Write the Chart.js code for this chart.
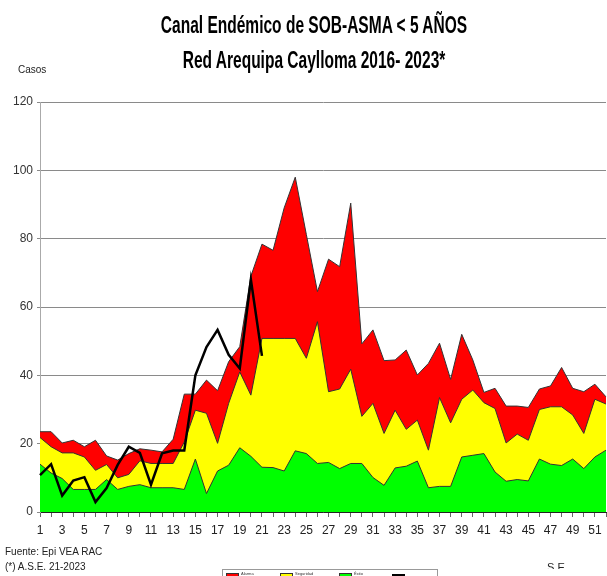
<!DOCTYPE html>
<html>
<head>
<meta charset="utf-8">
<script src="https://cdn.jsdelivr.net/npm/chart.js@4.4.1/dist/chart.umd.min.js"></script>
<style>
  html,body{margin:0;padding:0;background:#fff;}
  #wrap{position:relative;width:607px;height:576px;overflow:hidden;background:#fff;font-family:'Liberation Sans Narrow','Liberation Sans',Arial,sans-serif;}
  #c{position:absolute;left:0;top:0;}
  .t{position:absolute;left:314px;white-space:nowrap;font-family:'Liberation Sans',Arial,sans-serif;font-weight:bold;font-size:23px;color:#000;transform:translateX(-50%) scaleX(0.675);transform-origin:center;}
  .s{position:absolute;white-space:nowrap;font-size:10px;color:#222;}
  #leg{position:absolute;left:222px;top:569px;width:214px;height:20px;border:1px solid #999;background:#fff;}
  .sw{position:absolute;top:3px;width:11px;height:3px;border:1px solid #333;}
  .lt{position:absolute;top:1px;font-size:4px;color:#333;}
</style>
</head>
<body>
<div id="wrap">
  <canvas id="c" width="612" height="576"></canvas>
  <div class="t" style="top:12px;">Canal Endémico de SOB-ASMA &lt; 5 AÑOS</div>
  <div class="t" style="top:47px;">Red Arequipa Caylloma 2016- 2023*</div>
  <div class="s" style="left:18px;top:64px;">Casos</div>
  <div class="s" style="left:5px;top:546px;">Fuente:  Epi VEA RAC</div>
  <div class="s" style="left:5px;top:561px;">(*) A.S.E. 21-2023</div>
  <div style="position:absolute;left:547px;top:561px;height:8px;overflow:hidden;"><div class="s" style="position:static;font-size:11px;">S.E.</div></div>
  <div id="leg">
    <div class="sw" style="left:3px;background:#ff0000;"></div><div class="lt" style="left:18px;">Alarma</div>
    <div class="sw" style="left:57px;background:#ffff00;"></div><div class="lt" style="left:72px;">Seguridad</div>
    <div class="sw" style="left:116px;background:#00ff00;"></div><div class="lt" style="left:131px;">Éxito</div>
    <div style="position:absolute;left:169px;top:4px;width:13px;height:2px;background:#000;"></div>
  </div>
</div>
<script>
const semanas = ['1','2','3','4','5','6','7','8','9','10','11','12','13','14','15','16','17','18','19','20','21','22','23','24','25','26','27','28','29','30','31','32','33','34','35','36','37','38','39','40','41','42','43','44','45','46','47','48','49','50','51','52'];
const exito = [14.0,11.4,9.8,6.6,6.6,6.6,9.5,6.6,7.5,8.0,7.1,7.1,7.1,6.6,15.5,5.4,12.0,13.7,18.8,16.3,13.1,13.0,12.0,17.9,17.1,14.2,14.5,12.7,14.2,14.2,10.1,7.8,12.9,13.4,14.9,7.1,7.5,7.5,16.1,16.6,17.1,11.7,9.0,9.5,9.1,15.5,14.0,13.6,15.5,12.7,16.1,18.1];
const seguridad = [21.8,19.1,17.3,17.3,16.1,12.2,13.9,10.0,11.0,15.0,14.2,14.2,14.2,20.5,29.8,28.9,20.1,31.8,41.0,34.2,50.8,50.8,50.8,50.8,45.0,55.7,35.2,36.0,41.8,28.0,31.8,23.0,29.8,24.2,26.9,18.1,33.5,26.1,33.0,35.7,32.0,30.3,20.2,22.8,21.0,30.0,30.8,30.8,28.4,23.0,33.0,31.6];
const alarma = [23.5,23.5,20.2,21.0,19.1,21.0,16.4,15.2,17.1,18.5,18.1,17.6,21.3,34.5,34.5,38.6,35.5,44.0,48.4,69.0,78.4,76.6,89.0,98.0,81.2,64.5,74.0,71.8,90.4,49.2,53.3,44.3,44.5,47.4,40.1,43.5,49.4,38.8,52.0,44.5,35.0,36.2,31.0,31.0,30.6,36.0,36.9,42.3,36.2,35.2,37.4,33.7];
const casos2023 = [10.8,14.0,4.8,9.2,10.2,2.9,7.0,13.8,19.1,17.3,8.0,17.2,18.0,18.0,40.0,48.3,53.3,46.0,42.0,68.0,45.7];
const yTicks = [0,20,40,60,80,100,120];

const FONT = "'Liberation Sans Narrow','Liberation Sans',Arial,sans-serif";

new Chart(document.getElementById('c'), {
  type: 'line',
  data: {
    labels: semanas,
    datasets: [
      {label:'2023', data: casos2023, borderColor:'#000', borderWidth:2.5, pointRadius:0, fill:false, tension:0},
      {label:'Éxito', data: exito, borderColor:'#333', borderWidth:1, backgroundColor:'#00ff00', pointRadius:0, fill:'origin', tension:0},
      {label:'Seguridad', data: seguridad, borderColor:'#333', borderWidth:1, backgroundColor:'#ffff00', pointRadius:0, fill:'origin', tension:0},
      {label:'Alarma', data: alarma, borderColor:'#333', borderWidth:1, backgroundColor:'#ff0000', pointRadius:0, fill:'origin', tension:0}
    ]
  },
  options: {
    responsive:false,
    animation:false,
    layout:{padding:{top:102,left:0,right:4,bottom:0}},
    plugins:{legend:{display:false}, tooltip:{enabled:false}, title:{display:false}},
    scales:{
      x:{
        offset:false,
        grid:{display:true, drawOnChartArea:false, drawTicks:true, tickLength:5, color:'#666'},
        border:{display:true, color:'#222', width:1},
        ticks:{autoSkip:false, maxRotation:0, minRotation:0, padding:6, color:'#222', font:{family:FONT, size:12},
          callback:(v,i)=> (i%2===0 ? semanas[i] : '')},
        afterFit:(s)=>{s.height=64;}
      },
      y:{
        min:0, max:120,
        afterBuildTicks:(s)=>{s.ticks = yTicks.map(v=>({value:v}));},
        grid:{color:'#8a8a8a', tickLength:3, lineWidth:1},
        border:{display:true, color:'#aaa'},
        ticks:{padding:4, color:'#333', font:{family:FONT, size:12}},
        afterFit:(s)=>{s.width=40;}
      }
    }
  }
});
</script>
</body>
</html>
